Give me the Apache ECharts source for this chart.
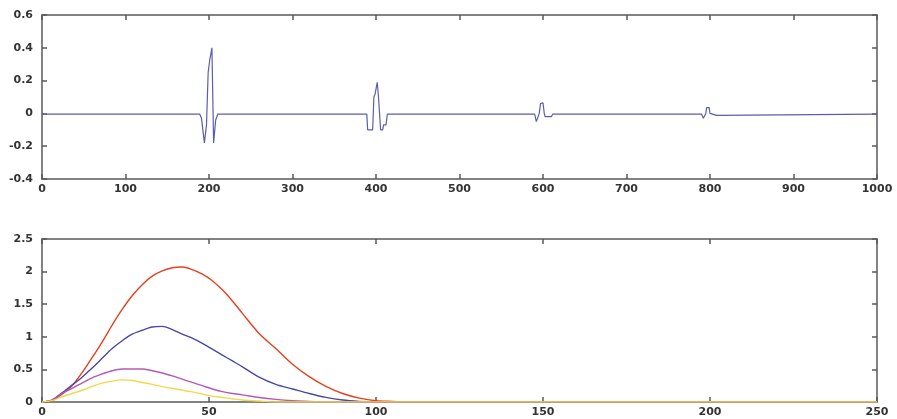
<!DOCTYPE html>
<html>
<head>
<meta charset="utf-8">
<script src="https://cdn.jsdelivr.net/npm/echarts@6/dist/echarts.min.js"></script>
<style>
html,body{margin:0;padding:0;background:#fff;}
#chart{width:897px;height:419px;}
</style>
</head>
<body>
<div id="chart"></div>
<script>
// Top panel: signal
var sigX = [0, 189, 191, 194.5, 197, 199, 201, 203.5, 205.5, 208, 210.5,
  389, 390, 396, 397.5, 399, 401.5, 403, 405.5, 408, 409, 412, 413.5,
  590, 592, 594, 595.5, 597, 600, 601.5, 602.5, 610, 611.5,
  790, 792, 794, 795, 796, 799, 800, 801, 808, 809, 1000];
var sigY = [-0.005, -0.005, -0.03, -0.18, -0.07, 0.25, 0.33, 0.4, -0.18, -0.04, -0.005,
  -0.005, -0.1, -0.1, 0.1, 0.12, 0.19, 0.1, -0.1, -0.1, -0.07, -0.07, -0.005,
  -0.005, -0.05, -0.055, 0.0, 0.06, 0.065, 0.0, -0.02, -0.02, -0.005,
  -0.005, -0.03, -0.035, 0.0, 0.035, 0.035, 0.0, -0.012, -0.012, -0.005, -0.005];

// Bottom panel: curves
var curveX = [0, 3, 6, 9, 12, 15, 18, 21, 24, 27, 30, 33, 36, 39, 42, 45, 48, 51, 54, 57, 60, 65, 70, 75, 80, 85, 90, 95, 100, 105, 110, 250];
var redY = [0, 0.02, 0.12, 0.25, 0.45, 0.68, 0.92, 1.18, 1.42, 1.63, 1.80, 1.93, 2.01, 2.06, 2.07, 2.03, 1.96, 1.86, 1.72, 1.55, 1.36, 1.05, 0.82, 0.58, 0.39, 0.24, 0.13, 0.06, 0.02, 0.01, 0, 0];
var blueY = [0, 0.03, 0.14, 0.26, 0.38, 0.52, 0.67, 0.82, 0.94, 1.04, 1.10, 1.15, 1.16, 1.11, 1.04, 0.98, 0.90, 0.81, 0.72, 0.63, 0.54, 0.38, 0.27, 0.20, 0.13, 0.07, 0.03, 0.01, 0, 0, 0, 0];
var magentaY = [0, 0.03, 0.13, 0.21, 0.29, 0.37, 0.43, 0.48, 0.505, 0.505, 0.505, 0.48, 0.445, 0.40, 0.35, 0.30, 0.25, 0.20, 0.16, 0.13, 0.11, 0.07, 0.04, 0.02, 0.01, 0, 0, 0, 0, 0, 0, 0];
var yellowY = [0, 0.02, 0.08, 0.13, 0.18, 0.24, 0.29, 0.32, 0.34, 0.33, 0.30, 0.27, 0.235, 0.21, 0.18, 0.155, 0.12, 0.09, 0.07, 0.05, 0.03, 0.015, 0, 0, 0, 0, 0, 0, 0, 0, 0, 0];

function zip(xs, ys) { return xs.map(function (x, i) { return [x, ys[i]]; }); }

var frame = {color: '#5a5a5a', width: 1.5};
var lbl = {fontFamily: 'DejaVu Sans', fontWeight: 'bold', fontSize: 11, color: '#333',
  formatter: function (v) { return String(Math.round(v * 1000) / 1000); }};
function xAx(grid, min, max, interval, pos, showLabel) {
  return {
    type: 'value', gridIndex: grid, min: min, max: max, interval: interval, position: pos,
    axisLine: {show: true, onZero: false, lineStyle: frame},
    axisTick: {show: true, inside: true, length: 5, lineStyle: frame},
    axisLabel: Object.assign({show: showLabel, margin: 5}, lbl),
    splitLine: {show: false}
  };
}
function yAx(grid, min, max, interval, pos, showLabel) {
  return {
    type: 'value', gridIndex: grid, min: min, max: max, interval: interval, position: pos,
    axisLine: {show: true, onZero: false, lineStyle: frame},
    axisTick: {show: true, inside: true, length: 5, lineStyle: frame},
    axisLabel: Object.assign({show: showLabel, margin: 9}, lbl),
    splitLine: {show: false}
  };
}
function line(data, color, xi, yi, width, smooth) {
  return {type: 'line', xAxisIndex: xi, yAxisIndex: yi, data: data, showSymbol: false, symbol: 'none',
    smooth: smooth, lineStyle: {color: color, width: width}, animation: false};
}

var chart = echarts.init(document.getElementById('chart'), null, {renderer: 'canvas'});
chart.setOption({
  animation: false,
  backgroundColor: '#ffffff',
  grid: [
    {left: 42, top: 15, width: 835, height: 164},
    {left: 42, top: 239, width: 835, height: 163}
  ],
  xAxis: [
    xAx(0, 0, 1000, 100, 'bottom', true),
    xAx(0, 0, 1000, 100, 'top', false),
    xAx(1, 0, 250, 50, 'bottom', true),
    xAx(1, 0, 250, 50, 'top', false)
  ],
  yAxis: [
    yAx(0, -0.4, 0.6, 0.2, 'left', true),
    yAx(0, -0.4, 0.6, 0.2, 'right', false),
    yAx(1, 0, 2.5, 0.5, 'left', true),
    yAx(1, 0, 2.5, 0.5, 'right', false)
  ],
  series: [
    line(zip(sigX, sigY), '#5c5cae', 0, 0, 1.2, false),
    line(zip(curveX, redY), '#e5401f', 2, 2, 1.4, 0.3),
    line(zip(curveX, blueY), '#4848a8', 2, 2, 1.4, 0.3),
    line(zip(curveX, magentaY), '#b35ab5', 2, 2, 1.4, 0.3),
    line(zip(curveX, yellowY), '#efd94c', 2, 2, 1.4, 0.3)
  ]
});
</script>
</body>
</html>
